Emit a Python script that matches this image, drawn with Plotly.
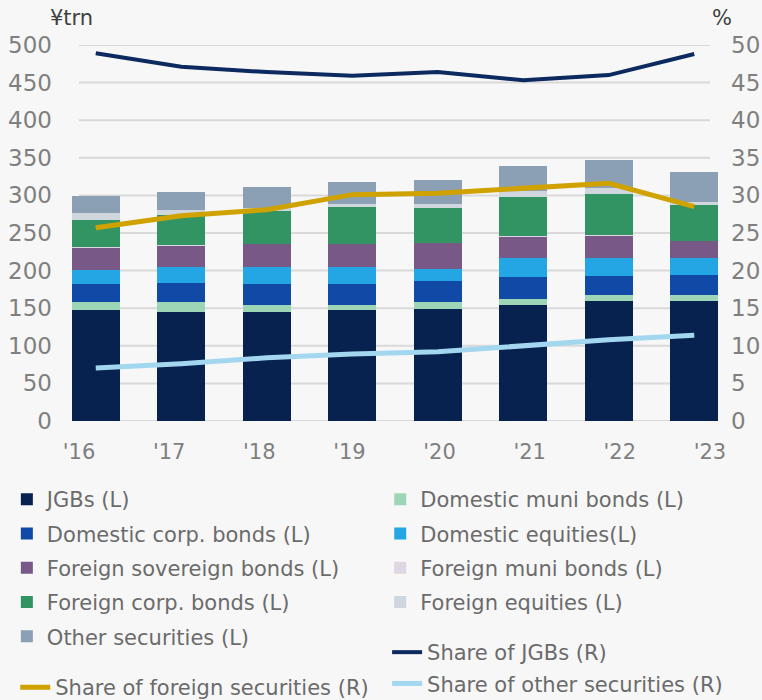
import plotly.graph_objects as go

years = ["'16", "'17", "'18", "'19", "'20", "'21", "'22", "'23"]

jgbs = [147.6, 145.0, 145.0, 147.6, 148.9, 154.3, 159.6, 159.6]
dom_muni = [10.6, 13.3, 9.4, 6.7, 9.3, 7.9, 8.0, 8.0]
dom_corp = [24.0, 24.7, 27.9, 27.9, 28.0, 29.3, 25.2, 26.5]
dom_eq = [18.6, 21.3, 22.6, 22.6, 15.9, 25.3, 24.0, 22.7]
for_sov = [29.7, 29.4, 30.6, 30.6, 34.6, 29.2, 30.5, 22.6]
for_muni = [0.3, 0.3, 0.3, 0.3, 0.3, 0.3, 0.3, 0.3]
for_corp = [36.5, 39.8, 43.3, 48.9, 46.2, 51.6, 54.3, 47.5]
for_eq = [9.3, 6.6, 3.7, 4.0, 5.4, 8.0, 7.9, 4.0]
other = [22.4, 24.0, 28.0, 29.2, 32.0, 33.2, 37.3, 40.0]

share_jgbs = [48.9, 47.1, 46.4, 45.9, 46.4, 45.3, 46.0, 48.8]
share_foreign = [25.7, 27.3, 28.1, 30.1, 30.3, 30.9, 31.6, 28.5]
share_other = [7.05, 7.6, 8.4, 8.9, 9.2, 10.0, 10.8, 11.4]

left_ticks = list(range(0, 501, 50))

# name, values, colour, legend
bar_series = [
    ("JGBs (L)", jgbs, "#07224f", "legend"),
    ("Domestic muni bonds (L)", dom_muni, "#9dd6b7", "legend2"),
    ("Domestic corp. bonds (L)", dom_corp, "#114aa6", "legend"),
    ("Domestic equities(L)", dom_eq, "#24a6e4", "legend2"),
    ("Foreign sovereign bonds (L)", for_sov, "#775886", "legend"),
    ("Foreign muni bonds (L)", for_muni, "#ddd6e3", "legend2"),
    ("Foreign corp. bonds (L)", for_corp, "#339463", "legend"),
    ("Foreign equities (L)", for_eq, "#cfd6dd", "legend2"),
    ("Other securities (L)", other, "#8ca0b5", "legend"),
]

line_series = [
    ("Share of JGBs (R)", share_jgbs, "#0c2a5f", 4, "legend3"),
    ("Share of foreign securities (R)", share_foreign, "#cfa200", 5, "legend4"),
    ("Share of other securities (R)", share_other, "#a2d7ef", 5, "legend3"),
]

FONT = "DejaVu Sans"
fig = go.Figure()
for name, vals, col, lg in bar_series:
    fig.add_trace(go.Bar(x=years, y=vals, name=name, marker_color=col,
                         marker_line_width=0, legend=lg, legendgroup=name))
for name, vals, col, w, lg in line_series:
    fig.add_trace(go.Scatter(x=years, y=vals, name=name, mode="lines",
                             line=dict(color=col, width=w), yaxis="y2",
                             legend=lg, legendgroup=name))

# invisible carrier trace so the category-label axis (x2) is drawn
fig.add_trace(go.Scatter(x=list(range(len(years))), y=[0] * len(years),
                         xaxis="x2", mode="markers",
                         marker=dict(opacity=0), showlegend=False,
                         hoverinfo="skip"))

# horizontal gridlines (drawn below the bars, over the narrower grid span)
for v in left_ticks:
    fig.add_shape(type="line", xref="paper", yref="y", x0=0.038, x1=0.9605,
                  y0=v, y1=v, line=dict(color="#d9d9d9", width=2),
                  layer="below")

leg_common = dict(orientation="v", xref="container", yref="container",
                  xanchor="left", yanchor="top", traceorder="grouped",
                  font=dict(size=21, color="#6b6b6b"),
                  bgcolor="rgba(0,0,0,0)", tracegroupgap=4)

fig.update_layout(
    width=762, height=700,
    paper_bgcolor="#f7f7f7", plot_bgcolor="#f7f7f7",
    barmode="stack", bargap=0.44,
    margin=dict(l=53, r=25, t=45, b=279, autoexpand=False),
    font=dict(family=FONT, size=22, color="#7f7f7f"),
    xaxis=dict(type="category", range=[-0.5, 7.5], showgrid=False,
               ticks="", showticklabels=False),
    xaxis2=dict(overlaying="x", side="bottom", anchor="y",
                range=[-0.2884, 7.2996], tickmode="array",
                tickvals=list(range(len(years))), ticktext=years,
                showgrid=False, zeroline=False, ticks="",
                ticklabelstandoff=16,
                tickfont=dict(size=21, color="#7f7f7f")),
    yaxis=dict(range=[0, 500], tickvals=left_ticks, showgrid=False,
               zeroline=False, ticks="", ticklabelstandoff=0,
               tickfont=dict(size=23, color="#7f7f7f")),
    yaxis2=dict(range=[0, 50], dtick=5, overlaying="y", side="right",
                showgrid=False, zeroline=False, ticks="",
                ticklabelstandoff=-7,
                tickfont=dict(size=23, color="#7f7f7f")),
    legend=dict(leg_common, x=0.009, y=1 - 479 / 700),
    legend2=dict(leg_common, x=0.499, y=1 - 479 / 700),
    legend3=dict(leg_common, x=0.508, y=1 - 632 / 700, tracegroupgap=1),
    legend4=dict(leg_common, x=0.02, y=1 - 667 / 700),
    showlegend=True,
    annotations=[
        dict(text="¥trn", xref="paper", yref="paper", x=-0.007, y=1.0,
             yshift=27, xanchor="left", yanchor="middle", showarrow=False,
             font=dict(size=21, color="#404040")),
        dict(text="%", xref="paper", yref="paper", x=0.96, y=1.0,
             yshift=27, xanchor="left", yanchor="middle", showarrow=False,
             font=dict(size=21, color="#404040")),
    ],
)

fig.write_html("out.html", config={"displayModeBar": False},
               post_script="document.body.style.margin='0';")
